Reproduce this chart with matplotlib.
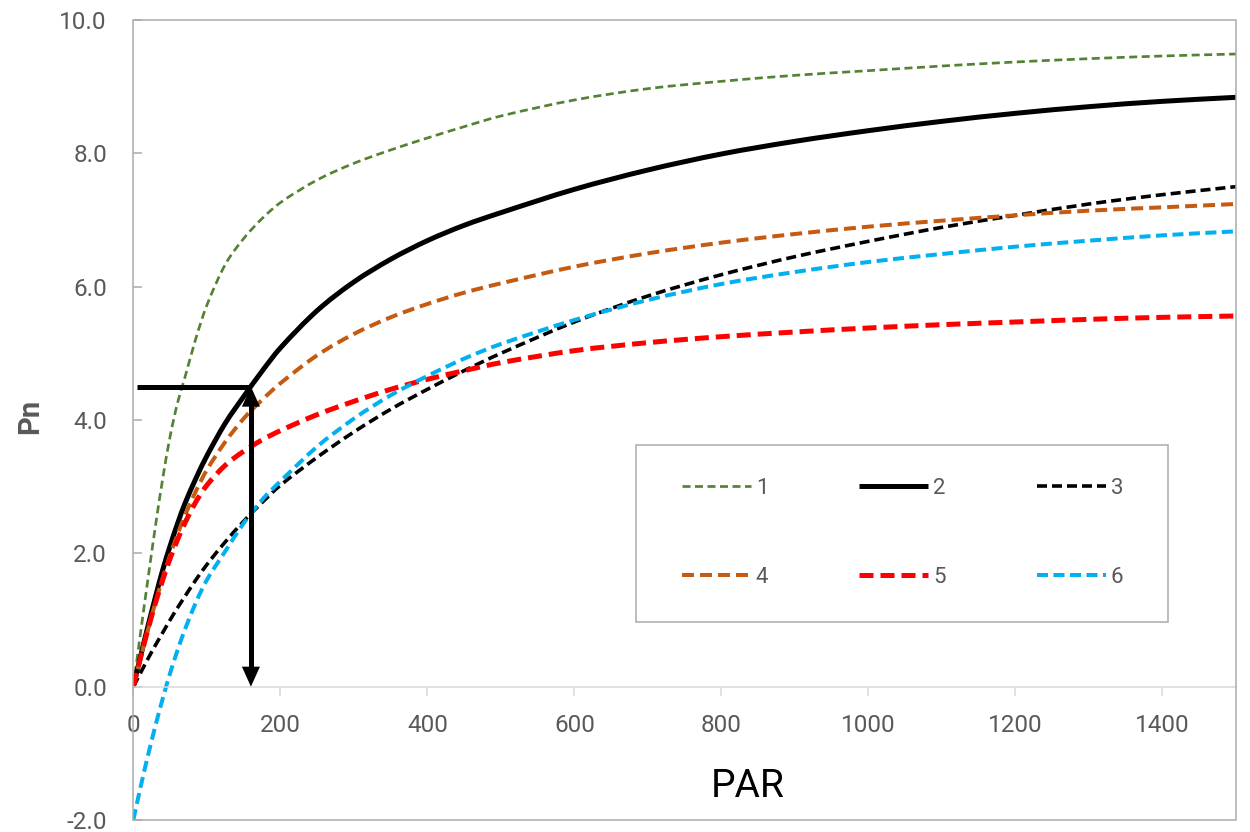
import matplotlib
matplotlib.use('Agg')
import matplotlib.pyplot as plt
from matplotlib.patches import Rectangle, PathPatch
from matplotlib.path import Path

plt.rcParams['font.family'] = ['Roboto', 'DejaVu Sans']
plt.rcParams['lines.scale_dashes'] = False

# light response curves
par = [0, 10, 20, 30, 40, 50, 60, 70, 85, 100, 125, 150, 175, 200, 250,
       300, 350, 400, 450, 500, 600, 700, 800, 900, 1000, 1100, 1200, 1300,
       1400, 1500]

pn_1 = [0, 0.82, 1.62, 2.4, 3.12, 3.75, 4.25, 4.63, 5.22, 5.72, 6.33, 6.72,
        7.02, 7.26, 7.6, 7.85, 8.05, 8.23, 8.4, 8.56, 8.8, 8.97, 9.08, 9.17,
        9.24, 9.31, 9.37, 9.42, 9.46, 9.49]
pn_2 = [0, 0.46, 0.91, 1.34, 1.75, 2.11, 2.44, 2.74, 3.12, 3.46, 3.95, 4.35,
        4.73, 5.08, 5.64, 6.07, 6.41, 6.69, 6.92, 7.11, 7.46, 7.75, 7.99, 8.18,
        8.34, 8.48, 8.6, 8.7, 8.78, 8.84]
pn_3 = [0, 0.21, 0.42, 0.62, 0.81, 1.0, 1.18, 1.35, 1.6, 1.83, 2.17, 2.48,
        2.76, 3.02, 3.44, 3.82, 4.16, 4.46, 4.74, 5.0, 5.47, 5.86, 6.18, 6.45,
        6.68, 6.89, 7.07, 7.24, 7.38, 7.5]
pn_4 = [0, 0.44, 0.86, 1.26, 1.63, 1.97, 2.28, 2.56, 2.93, 3.25, 3.67, 4.02,
        4.3, 4.55, 4.97, 5.29, 5.54, 5.74, 5.91, 6.05, 6.3, 6.5, 6.66, 6.79,
        6.9, 6.99, 7.07, 7.14, 7.19, 7.24]
pn_5 = [0, 0.44, 0.86, 1.25, 1.6, 1.92, 2.2, 2.45, 2.77, 3.02, 3.32, 3.53,
        3.7, 3.84, 4.08, 4.28, 4.46, 4.61, 4.74, 4.86, 5.04, 5.16, 5.25, 5.32,
        5.38, 5.43, 5.47, 5.51, 5.54, 5.56]
pn_6 = [-2.0, -1.5, -1.03, -0.59, -0.18, 0.2, 0.54, 0.85, 1.26, 1.6, 2.03,
        2.45, 2.8, 3.08, 3.6, 4.02, 4.37, 4.66, 4.92, 5.14, 5.5, 5.8, 6.04,
        6.22, 6.37, 6.49, 6.6, 6.69, 6.77, 6.83]

series_labels = ['1', '2', '3', '4', '5', '6']
y_ticks = [-2, 0, 2, 4, 6, 8, 10]
x_ticks = [0, 200, 400, 600, 800, 1000, 1200, 1400]

# marked point on curve 2
MARK_PAR = 160
MARK_PN = 4.5
MARK_START = 5

PX = 0.72  # points per pixel at 100 dpi
GRAY = '#ABABAB'
TEXT_GRAY = '#595959'

styles = [
    dict(color='#548235', lw=2.7 * PX, ls=(0, (8 * PX, 4.5 * PX))),
    dict(color='black', lw=5 * PX, ls='-'),
    dict(color='black', lw=3.6 * PX, ls=(0, (10 * PX, 5 * PX))),
    dict(color='#C55A11', lw=4 * PX, ls=(0, (12 * PX, 6 * PX))),
    dict(color='#FF0000', lw=5 * PX, ls=(0, (14 * PX, 7 * PX))),
    dict(color='#00B0F0', lw=4 * PX, ls=(0, (11 * PX, 5.5 * PX))),
]


def smooth_path(xs, ys):
    # smoothed line through the points (cubic Hermite as Bezier segments)
    n = len(xs)
    slopes = []
    for i in range(n):
        a = max(i - 1, 0)
        b = min(i + 1, n - 1)
        slopes.append((ys[b] - ys[a]) / (xs[b] - xs[a]))
    verts = [(xs[0], ys[0])]
    codes = [Path.MOVETO]
    for i in range(n - 1):
        h = (xs[i + 1] - xs[i]) / 3
        verts += [(xs[i] + h, ys[i] + slopes[i] * h),
                  (xs[i + 1] - h, ys[i + 1] - slopes[i + 1] * h),
                  (xs[i + 1], ys[i + 1])]
        codes += [Path.CURVE4] * 3
    return Path(verts, codes)


fig = plt.figure(figsize=(12.5, 8.32), dpi=100)
ax = fig.add_axes([133.3 / 1250, 1 - 820 / 832, (1236 - 133.3) / 1250, 800 / 832])

handles = []
for pn, lab, st in zip([pn_1, pn_2, pn_3, pn_4, pn_5, pn_6], series_labels, styles):
    ax.add_patch(PathPatch(smooth_path(par, pn), fill=False, edgecolor=st['color'],
                           lw=st['lw'], linestyle=st['ls'], capstyle='butt', zorder=2))
    line, = ax.plot([], [], color=st['color'], lw=st['lw'], linestyle=st['ls'],
                    dash_capstyle='butt', solid_capstyle='butt', label=lab)
    handles.append(line)

ax.set_xlim(0, 1500)
ax.set_ylim(-2, 10)

# plot area frame, x axis sits at Pn = 0
for side in ['left', 'top', 'right']:
    ax.spines[side].set_visible(False)
ax.spines['bottom'].set_position(('data', 0))
ax.spines['bottom'].set_color('#D9D9D9')
ax.spines['bottom'].set_linewidth(1.1)
ax.add_patch(Rectangle((0, 0), 1, 1, transform=ax.transAxes, fill=False,
                       edgecolor=GRAY, lw=1.1, clip_on=False, zorder=3))

ax.set_yticks(y_ticks)
ax.set_yticklabels([f'{v:.1f}' for v in y_ticks])
ax.set_xticks(x_ticks)
ax.set_xticklabels([str(v) for v in x_ticks])
ax.tick_params(axis='y', direction='in', length=6.5, width=1.1, color=GRAY,
               labelsize=17.5, labelcolor=TEXT_GRAY, pad=19)
ax.tick_params(axis='x', direction='out', length=6.5, width=1.1, color='#D9D9D9',
               labelsize=17.5, labelcolor=TEXT_GRAY, pad=13.5)

ax.set_xlabel('PAR', fontsize=28, color='black', va='baseline')
ax.xaxis.set_label_coords(0.5574, 0.029)
ax.set_ylabel('Pn', fontsize=21, fontweight='bold', color=TEXT_GRAY)
ax.yaxis.set_label_coords(-0.081, 0.504)

# horizontal marker and double headed arrow
ax.plot([MARK_START, MARK_PAR], [MARK_PN, MARK_PN], color='black', lw=5 * PX,
        solid_capstyle='butt', zorder=4)
head = 0.3
ax.plot([MARK_PAR, MARK_PAR], [head * 0.8, MARK_PN - head * 0.8], color='black',
        lw=5 * PX, solid_capstyle='butt', zorder=4)
for tip, tail in [(0, 1.0), (MARK_PN, MARK_PN - 1.0)]:
    ax.annotate('', xy=(MARK_PAR, tip), xytext=(MARK_PAR, tail),
                arrowprops=dict(arrowstyle='-|>,head_length=14.4,head_width=6.5',
                                mutation_scale=1, lw=0, color='black',
                                shrinkA=0, shrinkB=0), zorder=5)

# legend box
ax.add_patch(Rectangle(((636 - 133.3) / 1102.7, (820 - 622) / 800),
                       532 / 1102.7, 177 / 800, transform=ax.transAxes,
                       facecolor='white', edgecolor=GRAY, lw=1.1, zorder=4))
order = [0, 3, 1, 4, 2, 5]
leg = ax.legend([handles[i] for i in order], [series_labels[i] for i in order],
                ncol=3, loc='upper left',
                bbox_to_anchor=((682 - 133.3) / 1102.7, 0.4275),
                frameon=False, borderpad=0, borderaxespad=0, fontsize=16,
                handlelength=3.1, handletextpad=0.22, columnspacing=4.1,
                labelspacing=3.05, labelcolor=TEXT_GRAY)
leg.set_zorder(6)

fig.savefig('out.png', dpi=100)
